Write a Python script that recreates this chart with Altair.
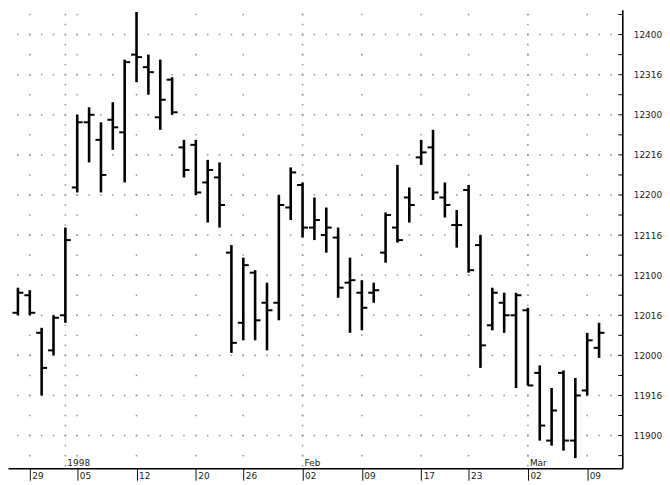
import altair as alt
import pandas as pd

# Trading days (Dec 26 1997 .. Mar 10 1998), prices quoted in 32nds
dates = ["1997-12-26", "1997-12-29", "1997-12-30", "1997-12-31", "1998-01-02",
         "1998-01-05", "1998-01-06", "1998-01-07", "1998-01-08", "1998-01-09",
         "1998-01-12", "1998-01-13", "1998-01-14", "1998-01-15", "1998-01-16",
         "1998-01-20", "1998-01-21", "1998-01-22", "1998-01-23",
         "1998-01-26", "1998-01-27", "1998-01-28", "1998-01-29", "1998-01-30",
         "1998-02-02", "1998-02-03", "1998-02-04", "1998-02-05", "1998-02-06",
         "1998-02-09", "1998-02-10", "1998-02-11", "1998-02-12", "1998-02-13",
         "1998-02-17", "1998-02-18", "1998-02-19", "1998-02-20",
         "1998-02-23", "1998-02-24", "1998-02-25", "1998-02-26", "1998-02-27",
         "1998-03-02", "1998-03-03", "1998-03-04", "1998-03-05", "1998-03-06",
         "1998-03-09", "1998-03-10"]

opens = ["120-17", "120-24", "120-09", "120-02", "120-16",
         "122-03", "122-29", "122-22", "122-30", "122-25",
         "123-24", "123-19", "122-31", "123-14", "122-19",
         "122-20", "122-05", "122-07", "121-09",
         "120-13", "121-01", "120-21", "120-21", "121-27",
         "122-04", "121-19", "121-16", "121-15", "120-29",
         "120-25", "120-25", "121-09", "121-19", "121-31",
         "122-15", "122-19", "121-31", "121-20",
         "122-02", "121-12", "120-12", "120-21", "120-16",
         "120-18", "119-25", "118-30", "119-25", "118-30",
         "119-18", "120-03"]
highs = ["120-27", "120-26", "120-11", "120-16", "121-19",
         "123-00", "123-03", "122-29", "123-05", "123-22",
         "124-09", "123-24", "123-22", "123-15", "122-22",
         "122-22", "122-14", "122-13", "121-12",
         "121-07", "121-02", "120-29", "122-00", "122-11",
         "122-05", "121-31", "121-27", "121-19", "121-07",
         "120-30", "120-29", "121-25", "122-12", "122-03",
         "122-22", "122-26", "122-05", "121-26",
         "122-04", "121-16", "120-27", "120-25", "120-25",
         "120-19", "119-28", "119-19", "119-26", "119-23",
         "120-09", "120-13"]
lows = ["120-16", "120-16", "119-16", "120-00", "120-13",
        "122-01", "122-13", "122-01", "122-18", "122-05",
        "123-13", "123-08", "122-26", "123-00", "122-07",
        "122-00", "121-21", "121-19", "120-01",
        "120-06", "120-06", "120-02", "120-14", "121-22",
        "121-15", "121-14", "121-09", "120-23", "120-09",
        "120-10", "120-21", "121-05", "121-13", "121-21",
        "122-12", "121-30", "121-23", "121-11",
        "121-01", "119-27", "120-10", "120-09", "119-19",
        "119-20", "118-30", "118-28", "118-26", "118-23",
        "119-16", "119-31"]
closes = ["120-25", "120-17", "119-27", "120-15", "121-14",
          "122-29", "123-00", "122-08", "122-27", "123-21",
          "123-23", "123-17", "123-06", "123-01", "122-10",
          "122-01", "122-10", "121-28", "120-05",
          "121-04", "120-14", "120-18", "121-28", "122-09",
          "121-19", "121-22", "121-19", "120-27", "120-30",
          "120-19", "120-26", "121-24", "121-14", "121-28",
          "122-17", "122-01", "121-28", "121-20",
          "121-02", "120-04", "120-25", "120-16", "120-24",
          "119-20", "119-04", "119-10", "118-30", "119-16",
          "120-06", "120-09"]

week_idx = [1, 5, 10, 15, 19, 24, 29, 34, 38, 43, 48]
week_lbl = ["29", "05", "12", "20", "26", "02", "09", "17", "23", "02", "09"]
month_idx = [4, 24, 43]
month_lbl = ["1998", "Feb", "Mar"]
label_rows = [119.0, 119.5, 120.0, 120.5, 121.0, 121.5, 122.0, 122.5, 123.0, 123.5, 124.0]


def q(s):
    h, t = s.split("-")
    return int(h) + int(t) / 32.0


df = pd.DataFrame({
    "i": list(range(len(dates))),
    "date": dates,
    "open": [q(s) for s in opens],
    "high": [q(s) for s in highs],
    "low": [q(s) for s in lows],
    "close": [q(s) for s in closes],
})

quarter_rows = [118.75 + 0.25 * k for k in range(23)]
eighth_rows = [118.625 + 0.125 * k for k in range(46)]

grid_pts = []
for v in label_rows:
    for i in range(0, 51):
        grid_pts.append({"i": i, "v": v})
for v in quarter_rows:
    for i in week_idx:
        grid_pts.append({"i": i, "v": v})
for v in eighth_rows:
    for i in month_idx:
        grid_pts.append({"i": i, "v": v})
grid_df = pd.DataFrame(grid_pts)

ticks_df = pd.DataFrame({"v": quarter_rows})
months_df = pd.DataFrame({"i": month_idx, "lbl": month_lbl})

W, H = 619, 462
FONT = "DejaVu Sans"

xscale = alt.Scale(domain=[-0.837, 50.96], nice=False, zero=False)
yscale = alt.Scale(domain=[118.592, 124.309], nice=False, zero=False)

x_expr = "[" + ",".join("'%s'" % s for s in week_lbl) + "][indexof([" + \
    ",".join(str(v) for v in week_idx) + "], datum.value)]"
y_expr = ("floor(datum.value) + (round((datum.value - floor(datum.value))*32) < 10 ? '0' : '') "
          "+ round((datum.value - floor(datum.value))*32)")

xaxis = alt.Axis(values=week_idx, labelExpr=x_expr, grid=False, tickSize=12,
                 tickColor="#111", tickWidth=1, domainColor="black", domainWidth=1.6,
                 labelAlign="left", labelOffset=2, labelPadding=-9,
                 labelFont=FONT, labelFontSize=9, labelColor="#222")
yaxis = alt.Axis(values=label_rows, labelExpr=y_expr, orient="right", grid=False,
                 ticks=False, labelPadding=11, domainColor="black", domainWidth=1.6,
                 labelFont=FONT, labelFontSize=9, labelColor="#222")


def X(field="i"):
    return alt.X(field + ":Q", scale=xscale, axis=xaxis, title=None)


def Y(field):
    return alt.Y(field + ":Q", scale=yscale, axis=yaxis, title=None)


grid = alt.Chart(grid_df).mark_square(size=2.5, color="#999999", opacity=1).encode(
    x=X(), y=Y("v"))

hl = alt.Chart(df).mark_rule(color="black", strokeWidth=2.6).encode(
    x=X(), y=Y("low"), y2="high")
op = alt.Chart(df).mark_rule(color="black", strokeWidth=2, xOffset=-5.5).encode(
    x=X(), x2="i", y=Y("open"))
cl = alt.Chart(df).mark_rule(color="black", strokeWidth=2, x2Offset=5.5).encode(
    x=X(), x2="i", y=Y("close"))

yticks = alt.Chart(ticks_df).mark_rule(color="black", strokeWidth=1).encode(
    y=Y("v"), x=alt.value(W - 4), x2=alt.value(W))

months = alt.Chart(months_df).mark_text(
    align="left", baseline="alphabetic", dx=2, dy=-2.5,
    font=FONT, fontSize=9, color="#222").encode(
    x=X(), y=alt.value(H), text="lbl:N")

chart = alt.layer(grid, yticks, hl, op, cl, months).properties(
    width=W, height=H, padding={"left": 0, "top": 0, "right": 0, "bottom": 0}
).configure_view(strokeWidth=0)

chart.save("out.html", embed_options={"renderer": "svg", "actions": False})
